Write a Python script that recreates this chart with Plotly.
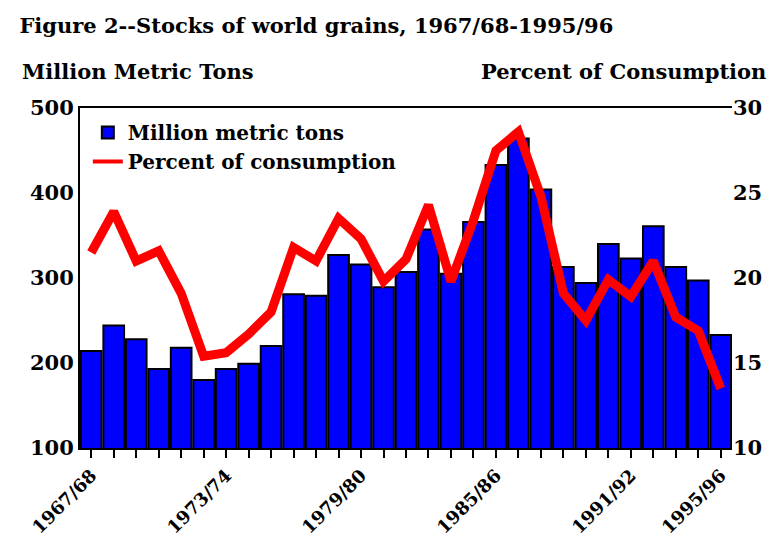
import plotly.graph_objects as go

years = ["1967/68","1968/69","1969/70","1970/71","1971/72","1972/73","1973/74","1974/75",
         "1975/76","1976/77","1977/78","1978/79","1979/80","1980/81","1981/82","1982/83",
         "1983/84","1984/85","1985/86","1986/87","1987/88","1988/89","1989/90","1990/91",
         "1991/92","1992/93","1993/94","1994/95","1995/96"]
stocks = [214, 244, 228, 193, 218, 180, 193, 199, 220, 281, 279, 327, 316, 289, 307,
          357, 305, 366, 433, 464, 404, 313, 294, 340, 323, 361, 313, 297, 233]
pct_consumption = [21.5, 23.9, 21.0, 21.6, 19.1, 15.4, 15.6, 16.7, 18.0, 21.8, 21.0, 23.5,
                   22.3, 19.8, 21.1, 24.3, 19.8, 23.4, 27.5, 28.6, 24.8, 19.1, 17.5, 19.9,
                   18.9, 21.0, 17.7, 16.9, 13.5]
labeled = ["1967/68", "1973/74", "1979/80", "1985/86", "1991/92", "1995/96"]
ticktext = [y if y in labeled else "" for y in years]

FONT = "DejaVu Serif"


def f(size):
    return dict(family=FONT, size=size, color="black", weight="bold")


fig = go.Figure()
fig.add_trace(go.Bar(x=years, y=stocks, name="Million metric tons",
                     marker=dict(color="#0000FF", line=dict(color="black", width=2))))
fig.add_trace(go.Scatter(x=years, y=pct_consumption, name="Percent of consumption",
                         yaxis="y2", mode="lines", line=dict(color="#FF0000", width=9),
                         showlegend=False, legendgroup="pct"))
# legend-only entry for the line (thin swatch as in the reference)
fig.add_trace(go.Scatter(x=[years[0]], y=[None], name="Percent of consumption",
                         yaxis="y2", mode="lines", line=dict(color="#FF0000", width=4),
                         legendgroup="pct", hoverinfo="skip"))

fig.update_layout(
    width=777, height=538,
    margin=dict(l=80, r=45, t=108, b=90, autoexpand=False),
    paper_bgcolor="white", plot_bgcolor="white",
    font=f(20),
    bargap=0.08,
    showlegend=True,
    legend=dict(x=0.012, y=0.985, xanchor="left", yanchor="top", bgcolor="rgba(0,0,0,0)",
                font=f(20), tracegroupgap=0, itemwidth=30),
    title=dict(text="Figure 2--Stocks of world grains, 1967/68-1995/96",
               x=0.025, xanchor="left", xref="container",
               y=1 - 26/538, yanchor="middle", yref="container",
               font=f(21)),
    xaxis=dict(tickmode="array", tickvals=years, ticktext=ticktext, tickangle=-45,
               ticks="outside", ticklen=8, tickwidth=1.5, tickcolor="black",
               showline=True, linecolor="black", linewidth=2, mirror=True,
               showgrid=False, tickfont=f(18), automargin=False,
               range=[-0.5, len(years) - 0.5]),
    yaxis=dict(range=[100, 500], tickvals=[100, 200, 300, 400, 500], showgrid=False,
               showline=True, linecolor="black", linewidth=2, ticks="",
               tickfont=f(21), zeroline=False, automargin=False),
    yaxis2=dict(range=[10, 30], tickvals=[10, 15, 20, 25, 30], overlaying="y", side="right",
                showgrid=False, showline=False, ticks="", zeroline=False,
                tickfont=f(21), automargin=False),
    annotations=[
        dict(text="Million Metric Tons", xref="paper", yref="paper",
             x=-0.092, y=(448 - 72) / 340, xanchor="left", yanchor="middle",
             showarrow=False, font=f(21)),
        dict(text="Percent of Consumption", xref="paper", yref="paper",
             x=(768 - 80) / 652, y=(448 - 72) / 340, xanchor="right", yanchor="middle",
             showarrow=False, font=f(21)),
    ],
)
fig.write_html("out.html")
